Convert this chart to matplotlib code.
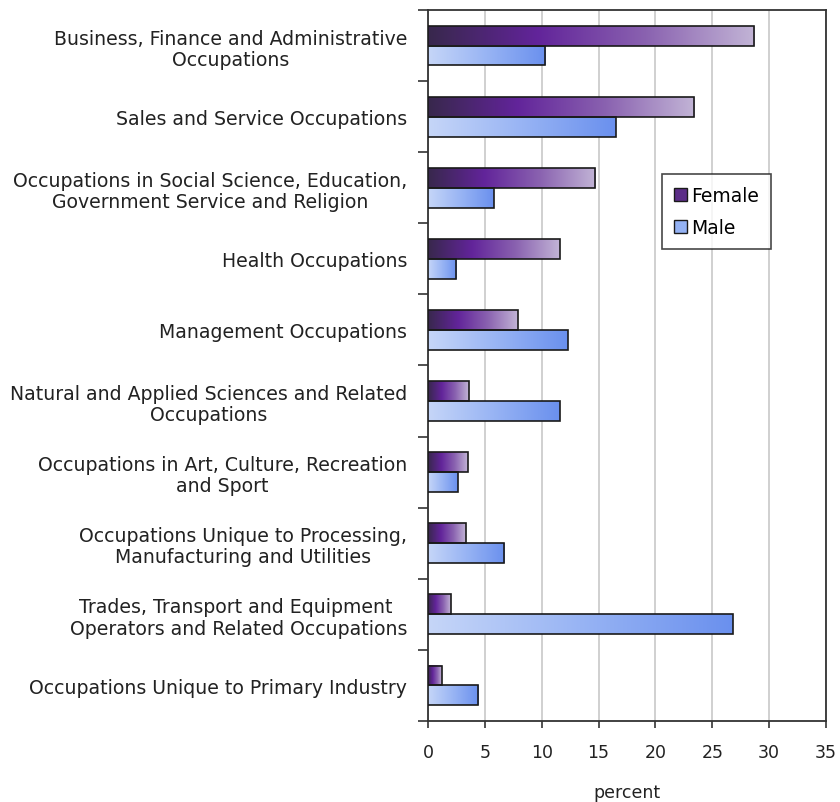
import numpy as np
import matplotlib
matplotlib.use("Agg")
import matplotlib.pyplot as plt
from matplotlib.colors import LinearSegmentedColormap
from matplotlib.patches import Patch

categories = [
    "Business, Finance and Administrative\nOccupations",
    "Sales and Service Occupations",
    "Occupations in Social Science, Education,\nGovernment Service and Religion",
    "Health Occupations",
    "Management Occupations",
    "Natural and Applied Sciences and Related\nOccupations",
    "Occupations in Art, Culture, Recreation\nand Sport",
    "Occupations Unique to Processing,\nManufacturing and Utilities",
    "Trades, Transport and Equipment \nOperators and Related Occupations",
    "Occupations Unique to Primary Industry",
]
female = [28.7, 23.4, 14.7, 11.6, 7.9, 3.6, 3.5, 3.3, 2.0, 1.2]
male = [10.3, 16.5, 5.8, 2.5, 12.3, 11.6, 2.6, 6.7, 26.8, 4.4]
xticks = [0, 5, 10, 15, 20, 25, 30, 35]

female_cmap = LinearSegmentedColormap.from_list(
    "fem", ["#38284c", "#62249a", "#8a62b0", "#c2b4d6"])
male_cmap = LinearSegmentedColormap.from_list(
    "mal", ["#c6d6f8", "#98b4f4", "#6a90ee"])

plt.rcParams["font.family"] = "DejaVu Sans"
fig = plt.figure(figsize=(8.4, 8.03), dpi=100)
ax = fig.add_axes([0.5095, 0.1009, 0.4738, 0.8854])

n = len(categories)
y = np.arange(n)
h = 0.28

bars_f = ax.barh(y - h / 2, female, height=h, color="none",
                 edgecolor="#1a1a1a", linewidth=1.2, zorder=4)
bars_m = ax.barh(y + h / 2, male, height=h, color="none",
                 edgecolor="#1a1a1a", linewidth=1.2, zorder=4)

grad = np.linspace(0, 1, 256).reshape(1, -1)
for bars, cmap in ((bars_f, female_cmap), (bars_m, male_cmap)):
    for b in bars:
        x0, y0 = b.get_x(), b.get_y()
        w, hh = b.get_width(), b.get_height()
        ax.imshow(grad, cmap=cmap, aspect="auto",
                  extent=(x0, x0 + w, y0 + hh, y0),
                  interpolation="bilinear", zorder=3)

ax.set_xlim(0, 35)
ax.set_ylim(n - 0.5, -0.5)
ax.set_xticks(xticks)
ax.set_xticklabels([str(t) for t in xticks], fontsize=12.5, color="#222222")
ax.tick_params(axis="x", direction="out", length=5, width=1.2,
               pad=11, color="#333333")

ax.set_yticks(y)
ax.set_yticklabels(categories, fontsize=13.6, color="#222222",
                   multialignment="center", linespacing=1.15)
ax.tick_params(axis="y", which="major", length=0, pad=15)
ax.set_yticks(np.arange(-0.5, n, 1.0), minor=True)
ax.tick_params(axis="y", which="minor", direction="out", length=7,
               width=1.2, color="#333333")

ax.grid(axis="x", color="#c8c8c8", linewidth=1.2, zorder=0)
ax.set_axisbelow(True)
for s in ax.spines.values():
    s.set_color("#333333")
    s.set_linewidth(1.3)

ax.set_xlabel("percent", fontsize=12.5, color="#222222", labelpad=16)

handles = [Patch(facecolor="#5c2e88", edgecolor="#1a1a1a", label="Female"),
           Patch(facecolor="#94b2f4", edgecolor="#1a1a1a", label="Male")]
leg = ax.legend(handles=handles, loc="upper left",
                bbox_to_anchor=(0.588, 0.770), fontsize=13.5,
                frameon=True, fancybox=False, handlelength=0.7,
                handleheight=0.7, handletextpad=0.2, labelspacing=0.7,
                borderpad=0.65, borderaxespad=0)
leg.get_frame().set_edgecolor("#1a1a1a")
leg.get_frame().set_linewidth(1.2)

fig.savefig("out.png", dpi=100, facecolor="white")
